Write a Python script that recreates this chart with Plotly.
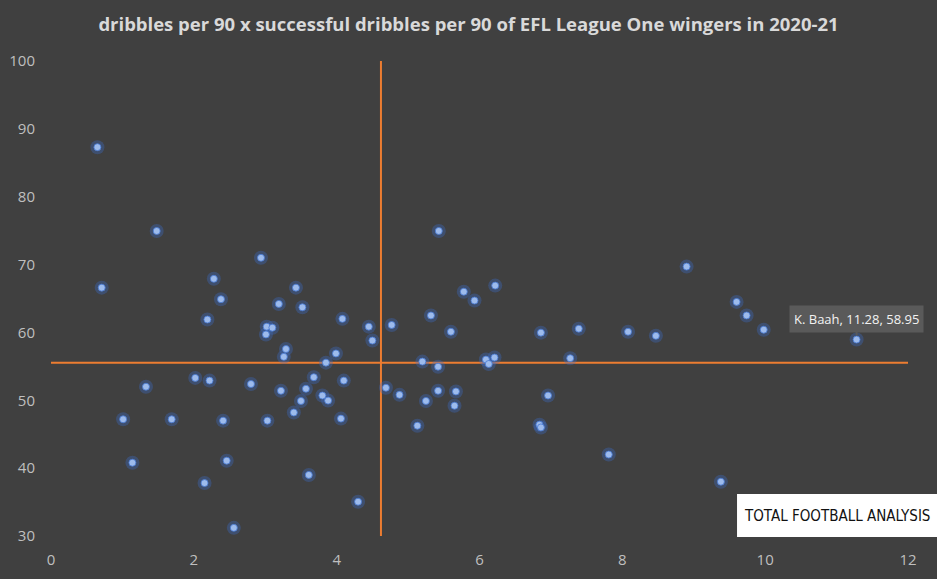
import plotly.graph_objects as go

# dribbles per 90 (x) and successful dribbles % (y)
dribbles = [0.65, 1.48, 2.94, 0.71, 2.28, 2.38, 3.43, 3.19, 3.52, 2.19, 3.02, 3.10, 3.01,
            3.29, 3.26, 2.02, 2.22, 2.80, 1.33, 3.22, 3.57, 3.68, 3.50, 3.40, 1.01, 1.69,
            2.41, 3.03, 1.14, 2.46, 2.15, 3.61, 2.56,
            5.43, 6.22, 5.78, 5.93, 4.08, 5.32, 4.45, 4.77, 5.60, 4.50, 6.86, 7.39, 8.08,
            8.47, 3.99, 3.85, 5.20, 5.42, 6.09, 6.13, 6.21, 7.27, 4.10, 3.80, 3.88, 4.69,
            4.88, 5.42, 5.67, 5.25, 5.65, 6.96, 4.06, 5.13, 6.84, 6.86, 7.81, 4.30,
            8.90, 9.60, 9.74, 9.98, 11.28, 9.38]
success = [87.3, 74.95, 71.0, 66.6, 67.9, 64.9, 66.6, 64.2, 63.7, 61.9, 60.85, 60.7, 59.7,
           57.56, 56.4, 53.3, 52.9, 52.4, 52.0, 51.4, 51.7, 53.4, 49.9, 48.2, 47.2, 47.2,
           47.0, 47.0, 40.8, 41.1, 37.8, 39.0, 31.2,
           74.95, 66.9, 66.0, 64.7, 62.0, 62.5, 60.85, 61.1, 60.1, 58.8, 59.97, 60.55, 60.1,
           59.5, 56.9, 55.55, 55.7, 54.95, 56.0, 55.35, 56.3, 56.2, 52.9, 50.7, 49.95, 51.85,
           50.8, 51.4, 51.3, 49.9, 49.2, 50.7, 47.3, 46.25, 46.4, 46.0, 42.0, 35.05,
           69.7, 64.5, 62.5, 60.4, 58.95, 38.0]

x_mean = 4.62
y_mean = 55.55
x_range = [0, 12]
y_range = [30, 100]
x_ticks = [0, 2, 4, 6, 8, 10, 12]
y_ticks = [30, 40, 50, 60, 70, 80, 90, 100]

label_player = "K. Baah"
label_x = 11.28
label_y = 58.95

title = "dribbles per 90 x successful dribbles per 90 of EFL League One wingers in 2020-21"
logo_text = "TOTAL FOOTBALL ANALYSIS"

bg = "#404040"
orange = "#ed7d31"

fig = go.Figure()

fig.add_trace(go.Scatter(x=x_range, y=[y_mean, y_mean], mode="lines",
                         line=dict(color=orange, width=2), hoverinfo="skip", showlegend=False))
fig.add_trace(go.Scatter(x=[x_mean, x_mean], y=y_range, mode="lines",
                         line=dict(color=orange, width=2), hoverinfo="skip", showlegend=False))

# glow
fig.add_trace(go.Scatter(x=dribbles, y=success, mode="markers",
                         marker=dict(size=14, color="rgba(60,110,200,0.35)", line=dict(width=0)),
                         hoverinfo="skip", showlegend=False))
fig.add_trace(go.Scatter(x=dribbles, y=success, mode="markers",
                         marker=dict(size=7, color="#9dbbec",
                                     line=dict(width=1, color="rgba(70,120,210,0.8)")),
                         showlegend=False))

fig.add_annotation(x=label_x, y=label_y,
                   text=f"{label_player}, {label_x:.2f}, {label_y:.2f}",
                   showarrow=True, arrowhead=0, arrowwidth=2, arrowcolor="#5a5a5a",
                   standoff=4, ax=0, ay=-21, bgcolor="#5a5a5a", borderpad=4,
                   font=dict(family="Open Sans", size=13, color="#f2f2f2"))

# logo box
fig.add_shape(type="rect", xref="paper", yref="paper",
              x0=0.8005, x1=1.05, y0=-0.002, y1=0.0884,
              fillcolor="white", line=dict(width=0), layer="above")
fig.add_annotation(xref="paper", yref="paper", x=0.9175, y=0.043, xanchor="center", yanchor="middle",
                   text=logo_text, showarrow=False,
                   font=dict(family="DejaVu Sans Condensed", size=15, color="#111111"))

fig.update_layout(
    width=937, height=579,
    paper_bgcolor=bg, plot_bgcolor=bg,
    margin=dict(l=51, r=29, t=61, b=43),
    title=dict(text=f"<b>{title}</b>", x=0.5, xanchor="center", y=0.958, yanchor="middle",
               font=dict(family="Open Sans", size=18.5, color="#d9d9d9")),
    xaxis=dict(range=x_range, tickvals=x_ticks, showgrid=False, zeroline=False,
               showline=False, ticks="", ticklabelstandoff=13, automargin=False,
               tickfont=dict(family="Open Sans", size=15, color="#bfbfbf")),
    yaxis=dict(range=y_range, tickvals=y_ticks, showgrid=False, zeroline=False,
               showline=False, ticks="", ticklabelstandoff=15, automargin=False,
               tickfont=dict(family="Open Sans", size=15, color="#bfbfbf")),
)

fig.write_html("out.html")
